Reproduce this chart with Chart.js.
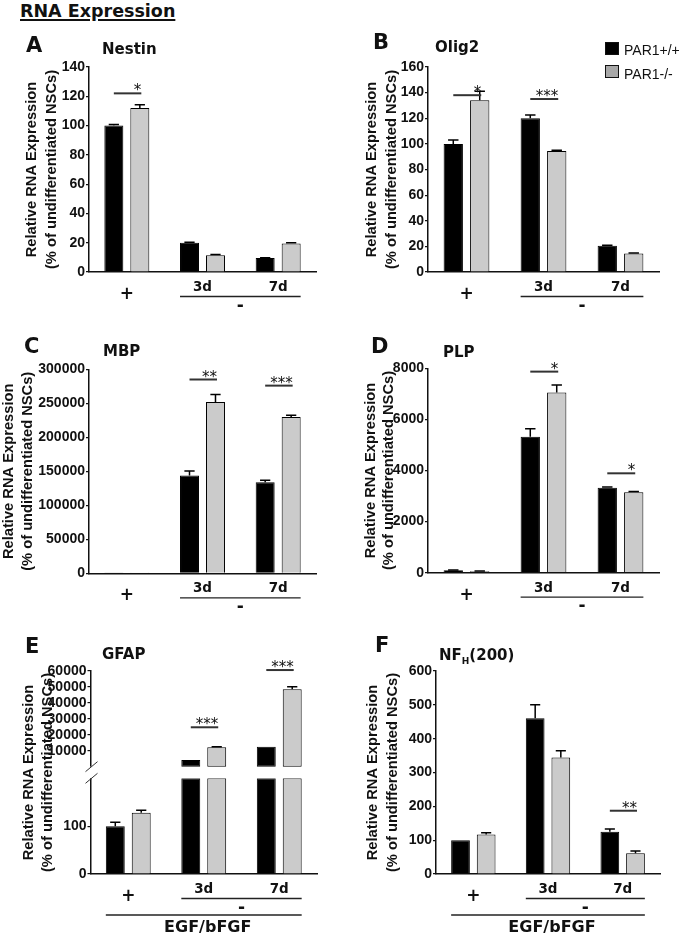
<!DOCTYPE html>
<html>
<head>
<meta charset="utf-8">
<title>RNA Expression</title>
<script src="https://cdn.jsdelivr.net/npm/chart.js@4.4.1/dist/chart.umd.min.js"></script>
<style>
  body { margin: 0; background: #fff; }
  #page { position: relative; width: 685px; height: 933px; overflow: hidden; background: #fff; color: #111; }
  #page canvas { position: absolute; }
  .txt { position: absolute; font-family: "DejaVu Sans", sans-serif; font-weight: bold; line-height: 1; white-space: nowrap; }
  .head { left: 20px; top: 2.5px; font-size: 17.5px; text-decoration: underline; text-decoration-thickness: 2px; text-underline-offset: 2px; }
  .panel { font-size: 21px; }
  .gene { font-size: 15px; }
  .gene sub { font-size: 9px; vertical-align: -4px; line-height: 0; }
  .key { position: absolute; box-sizing: border-box; width: 14px; height: 13px; border: 1px solid #111; }
  .keytxt { position: absolute; font-family: "Liberation Sans", Arial, sans-serif; font-size: 14px; line-height: 1; white-space: nowrap; }
</style>
</head>
<body>
<div id="page">
  <canvas id="chartA" width="340" height="290" style="left:0;top:30px"></canvas>
  <canvas id="chartB" width="345" height="290" style="left:340px;top:30px"></canvas>
  <canvas id="chartC" width="340" height="300" style="left:0;top:320px"></canvas>
  <canvas id="chartD" width="345" height="300" style="left:340px;top:320px"></canvas>
  <canvas id="chartE" width="340" height="313" style="left:0;top:620px"></canvas>
  <canvas id="chartF" width="345" height="313" style="left:340px;top:620px"></canvas>

  <div class="txt head">RNA Expression</div>

  <div class="txt panel" style="left:26px;top:35.2px">A</div>
  <div class="txt gene" style="left:102px;top:42.3px">Nestin</div>
  <div class="txt panel" style="left:373px;top:32.2px">B</div>
  <div class="txt gene" style="left:435px;top:40px">Olig2</div>
  <div class="txt panel" style="left:24px;top:335.5px">C</div>
  <div class="txt gene" style="left:103px;top:344px">MBP</div>
  <div class="txt panel" style="left:371px;top:335.5px">D</div>
  <div class="txt gene" style="left:443px;top:344.6px">PLP</div>
  <div class="txt panel" style="left:25px;top:635.5px">E</div>
  <div class="txt gene" style="left:102px;top:647.3px">GFAP</div>
  <div class="txt panel" style="left:375px;top:635.2px">F</div>
  <div class="txt gene" style="left:439px;top:648.3px">NF<sub>H</sub>(200)</div>

  <div class="key" style="left:605px;top:42px;background:#000"></div>
  <div class="keytxt" id="key1" style="left:624px;top:43.2px"></div>
  <div class="key" style="left:605px;top:65px;background:#a8a8a8"></div>
  <div class="keytxt" id="key2" style="left:624px;top:66.5px"></div>
</div>

<script>
// ---------- DATA ----------

var groups = ["+", "3d", "7d"];
var minusLabel = "-";
var factorLabel = "EGF/bFGF";
var seriesNames = ["PAR1+/+", "PAR1-/-"];
var yTitle = ["Relative RNA Expression", "(% of undifferentiated NSCs)"];

// Nestin
var nestinWT = [100, 20, 9.5];
var nestinKO = [112, 11.5, 19.5];
var nestinWTErr = [0.8, 0.3, 0.3];
var nestinKOErr = [2.3, 0.5, 0.5];
var nestinTicks = [0, 20, 40, 60, 80, 100, 120, 140];
var nestinSig = [[0, 122, "*"]];

// Olig2
var olig2WT = [100, 120, 20.5];
var olig2KO = [134, 94.5, 14.5];
var olig2WTErr = [3, 2.5, 0.3];
var olig2KOErr = [7, 0.6, 0.3];
var olig2Ticks = [0, 20, 40, 60, 80, 100, 120, 140, 160];
var olig2Sig = [[0, 138, "*"], [1, 135, "***"]];

// MBP
var mbpWT = [100, 144000, 134000];
var mbpKO = [100, 252000, 230000];
var mbpWTErr = [0, 6300, 3000];
var mbpKOErr = [0, 10800, 2500];
var mbpTicks = [0, 50000, 100000, 150000, 200000, 250000, 300000];
var mbpSig = [[1, 285000, "**"], [2, 276000, "***"]];

// PLP
var plpWT = [100, 5320, 3320];
var plpKO = [60, 7050, 3150];
var plpWTErr = [10, 310, 30];
var plpKOErr = [5, 300, 25];
var plpTicks = [0, 2000, 4000, 6000, 8000];
var plpSig = [[1, 7870, "*"], [2, 3890, "*"]];

// GFAP (broken axis)
var gfapWT = [100, 4200, 12500];
var gfapKO = [128, 12200, 48500];
var gfapWTErr = [8, 0, 0];
var gfapKOErr = [5, 300, 1600];
var gfapBreak = 200;
var gfapLowTicks = [0, 100];
var gfapHighTicks = [10000, 20000, 30000, 40000, 50000, 60000];
var gfapSig = [[1, 24700, "***"], [2, 60600, "***"]];

// NFH(200)
var nfhWT = [100, 460, 125];
var nfhKO = [117, 344, 61];
var nfhWTErr = [0, 40, 8];
var nfhKOErr = [5, 20, 7];
var nfhTicks = [0, 100, 200, 300, 400, 500, 600];
var nfhSig = [[2, 187, "**"]];


// ---------- STYLE ----------

var INK = "#111";
var BLACK = "#000";
var GREY = "#cbcbcb";
var BOLD = '"DejaVu Sans", sans-serif';

document.getElementById("key1").textContent = seriesNames[0];
document.getElementById("key2").textContent = seriesNames[1];


// ---------- PLUGINS ----------

// error bars (upper half only)
var errorBars = {
  id: "errorBars",
  afterDatasetsDraw: function(chart) {
    var ctx = chart.ctx;
    chart.data.datasets.forEach(function(ds, i) {
      if (!ds.errors) return;
      var meta = chart.getDatasetMeta(i);
      var scale = chart.scales[meta.yAxisID];
      meta.data.forEach(function(bar, j) {
        var v = ds.data[j], e = ds.errors[j];
        if (v == null || !e) return;
        var top = scale.getPixelForValue(v + e);
        var cap = bar.width * 0.27;
        ctx.save();
        ctx.strokeStyle = BLACK;
        ctx.lineWidth = 1.5;
        ctx.beginPath();
        ctx.moveTo(bar.x, bar.y);
        ctx.lineTo(bar.x, top);
        ctx.moveTo(bar.x - cap, top);
        ctx.lineTo(bar.x + cap, top);
        ctx.stroke();
        ctx.restore();
      });
    });
  }
};

// rotated two-line y title
function yTitlePlugin(x1, x2) {
  return {
    id: "yTitle",
    afterDraw: function(chart) {
      var ctx = chart.ctx, a = chart.chartArea, cy = (a.top + a.bottom) / 2;
      ctx.save();
      ctx.fillStyle = INK;
      ctx.font = 'bold 14.7px "Liberation Sans", Arial, sans-serif';
      ctx.textAlign = "center";
      ctx.textBaseline = "middle";
      [x1, x2].forEach(function(x, i) {
        ctx.save();
        ctx.translate(x, cy);
        ctx.rotate(-Math.PI / 2);
        ctx.fillText(yTitle[i], 0, 0);
        ctx.restore();
      });
      ctx.restore();
    }
  };
}

// significance bars with stars
function sigPlugin(marks, axisId) {
  return {
    id: "sigBars",
    afterDatasetsDraw: function(chart) {
      var ctx = chart.ctx, y = chart.scales[axisId];
      var m0 = chart.getDatasetMeta(0), m1 = chart.getDatasetMeta(1);
      marks.forEach(function(m) {
        var x1 = m0.data[m[0]].x, x2 = m1.data[m[0]].x + 1.5;
        var py = y.getPixelForValue(m[1]);
        ctx.save();
        ctx.strokeStyle = "#333";
        ctx.lineWidth = 2;
        ctx.beginPath();
        ctx.moveTo(x1, py);
        ctx.lineTo(x2, py);
        ctx.stroke();
        ctx.fillStyle = INK;
        ctx.font = '15px "DejaVu Sans", sans-serif';
        ctx.textAlign = "right";
        ctx.textBaseline = "alphabetic";
        ctx.fillText(m[2], x2, py + 2);
        ctx.restore();
      });
    }
  };
}

// x labels: "+", "3d", "7d", the "-" bracket and optional EGF/bFGF bracket
function xLabelPlugin(withFactor) {
  return {
    id: "xLabels",
    afterDraw: function(chart) {
      var ctx = chart.ctx, b = chart.chartArea.bottom, x = chart.scales.x;
      var m0 = chart.getDatasetMeta(0), m1 = chart.getDatasetMeta(1);
      ctx.save();
      ctx.fillStyle = INK;
      ctx.strokeStyle = "#222";
      ctx.lineWidth = 1.3;
      ctx.textAlign = "center";
      ctx.textBaseline = "alphabetic";

      ctx.font = "bold 17px " + BOLD;
      ctx.fillText(groups[0], x.getPixelForValue(0), b + 27);
      ctx.font = "bold 13.5px " + BOLD;
      ctx.fillText(groups[1], x.getPixelForValue(1), b + 19);
      ctx.fillText(groups[2], x.getPixelForValue(2), b + 19);

      var l = m0.data[1].x - m0.data[1].width / 2;
      var r = m1.data[2].x + m1.data[2].width / 2;
      ctx.beginPath();
      ctx.moveTo(l, b + 24.5);
      ctx.lineTo(r, b + 24.5);
      ctx.stroke();
      ctx.font = "bold 17px " + BOLD;
      ctx.fillText(minusLabel, (l + r) / 2, b + 38.7);

      if (withFactor) {
        var l0 = m0.data[0].x - m0.data[0].width / 2;
        ctx.beginPath();
        ctx.moveTo(l0, b + 41);
        ctx.lineTo(r, b + 41);
        ctx.stroke();
        ctx.font = "bold 16px " + BOLD;
        ctx.fillText(factorLabel, (l0 + r) / 2 + 4, b + 57.5);
      }
      ctx.restore();
    }
  };
}

// axis break marks for GFAP
var breakMarks = {
  id: "breakMarks",
  afterDraw: function(chart) {
    var ctx = chart.ctx, x = chart.chartArea.left;
    var yTop = chart.scales.yHigh.getPixelForValue(0);
    var yBot = chart.scales.yLow.getPixelForValue(gfapBreak);
    ctx.save();
    ctx.fillStyle = "#fff";
    ctx.fillRect(x - 2, yTop, 4, yBot - yTop);
    ctx.strokeStyle = "#333";
    ctx.lineWidth = 1;
    ctx.beginPath();
    [yTop, yBot].forEach(function(y) {
      ctx.moveTo(x - 5, y + 5);
      ctx.lineTo(x + 7, y - 5);
    });
    ctx.stroke();
    ctx.restore();
  }
};


// ---------- CHART HELPERS ----------

function yAxis(ticks, width, min, max) {
  return {
    position: "left",
    min: min,
    max: max,
    stacked: false,
    afterBuildTicks: function(s) { s.ticks = ticks.map(function(v) { return { value: v }; }); },
    afterFit: function(s) { s.width = width; },
    grid: { display: true, drawOnChartArea: false, drawTicks: true, tickLength: 3, color: INK, lineWidth: 1.2 },
    border: { display: true, color: INK, width: 1.5 },
    ticks: {
      color: INK,
      padding: 1,
      autoSkip: false,
      font: { family: "Liberation Sans", weight: "bold", size: 14 },
      callback: function(v) { return String(v); }
    }
  };
}

function xAxis() {
  return {
    grid: { display: false, drawTicks: false },
    ticks: { display: false },
    border: { display: true, color: INK, width: 1.5 },
    afterFit: function(s) { s.height = 0; }
  };
}

function bars(label, data, errs, color, extra) {
  var ds = {
    label: label,
    data: data,
    errors: errs,
    backgroundColor: color,
    borderColor: BLACK,
    borderWidth: 1,
    categoryPercentage: 0.687,
    barPercentage: 0.73
  };
  for (var k in extra) ds[k] = extra[k];
  return ds;
}

function baseOptions(pad, scales) {
  return {
    responsive: false,
    animation: false,
    devicePixelRatio: 1,
    events: [],
    layout: { padding: pad },
    plugins: { legend: { display: false }, tooltip: { enabled: false } },
    scales: scales
  };
}

function simpleChart(id, wt, ko, wtErr, koErr, ticks, sig, axisX, pad, titleX, withFactor) {
  return new Chart(document.getElementById(id), {
    type: "bar",
    data: {
      labels: groups,
      datasets: [
        bars(seriesNames[0], wt, wtErr, BLACK),
        bars(seriesNames[1], ko, koErr, GREY)
      ]
    },
    options: baseOptions(pad, {
      x: xAxis(),
      y: yAxis(ticks, axisX, ticks[0], ticks[ticks.length - 1])
    }),
    plugins: [errorBars, sigPlugin(sig, "y"), xLabelPlugin(withFactor), yTitlePlugin(titleX[0], titleX[1])]
  });
}


// ---------- CHARTS ----------

var chartA = simpleChart("chartA", nestinWT, nestinKO, nestinWTErr, nestinKOErr, nestinTicks, nestinSig,
  89, { left: 0, right: 24, top: 37, bottom: 48 }, [31.7, 51.7], false);

var chartB = simpleChart("chartB", olig2WT, olig2KO, olig2WTErr, olig2KOErr, olig2Ticks, olig2Sig,
  88, { left: 0, right: 26, top: 37, bottom: 48 }, [31.7, 51.7], false);

var chartC = simpleChart("chartC", mbpWT, mbpKO, mbpWTErr, mbpKOErr, mbpTicks, mbpSig,
  89, { left: 0, right: 24, top: 49.3, bottom: 46.7 }, [9, 28], false);

var chartD = simpleChart("chartD", plpWT, plpKO, plpWTErr, plpKOErr, plpTicks, plpSig,
  88, { left: 0, right: 26, top: 48.3, bottom: 47.3 }, [30.5, 48.5], false);

var chartF = simpleChart("chartF", nfhWT, nfhKO, nfhWTErr, nfhKOErr, nfhTicks, nfhSig,
  96, { left: 0, right: 25, top: 51, bottom: 59 }, [33, 53], true);

// GFAP: two stacked y axes make the broken axis
var isHigh = function(v) { return v > gfapBreak; };
var chartE = new Chart(document.getElementById("chartE"), {
  type: "bar",
  data: {
    labels: groups,
    datasets: [
      bars(seriesNames[0], gfapWT.map(function(v) { return Math.min(v, gfapBreak); }),
        gfapWTErr.map(function(e, i) { return isHigh(gfapWT[i]) ? 0 : e; }), BLACK,
        { yAxisID: "yLow", stack: "wt" }),
      bars(seriesNames[1], gfapKO.map(function(v) { return Math.min(v, gfapBreak); }),
        gfapKOErr.map(function(e, i) { return isHigh(gfapKO[i]) ? 0 : e; }), GREY,
        { yAxisID: "yLow", stack: "ko" }),
      bars(seriesNames[0], gfapWT.map(function(v) { return isHigh(v) ? v : null; }),
        gfapWTErr.map(function(e, i) { return isHigh(gfapWT[i]) ? e : 0; }), BLACK,
        { yAxisID: "yHigh", stack: "wt", borderSkipped: false }),
      bars(seriesNames[1], gfapKO.map(function(v) { return isHigh(v) ? v : null; }),
        gfapKOErr.map(function(e, i) { return isHigh(gfapKO[i]) ? e : 0; }), GREY,
        { yAxisID: "yHigh", stack: "ko", borderSkipped: false })
    ]
  },
  options: baseOptions({ left: 0, right: 23, top: 51, bottom: 59 }, {
    x: xAxis(),
    yLow: Object.assign(yAxis(gfapLowTicks, 90.5, 0, gfapBreak), { stack: "gfap", stackWeight: 95.7 }),
    yHigh: Object.assign(yAxis(gfapHighTicks, 90.5, -7300, 60000), { stack: "gfap", stackWeight: 107.3 })
  }),
  plugins: [errorBars, sigPlugin(gfapSig, "yHigh"), xLabelPlugin(true), yTitlePlugin(29, 48), breakMarks]
});
</script>
</body>
</html>
